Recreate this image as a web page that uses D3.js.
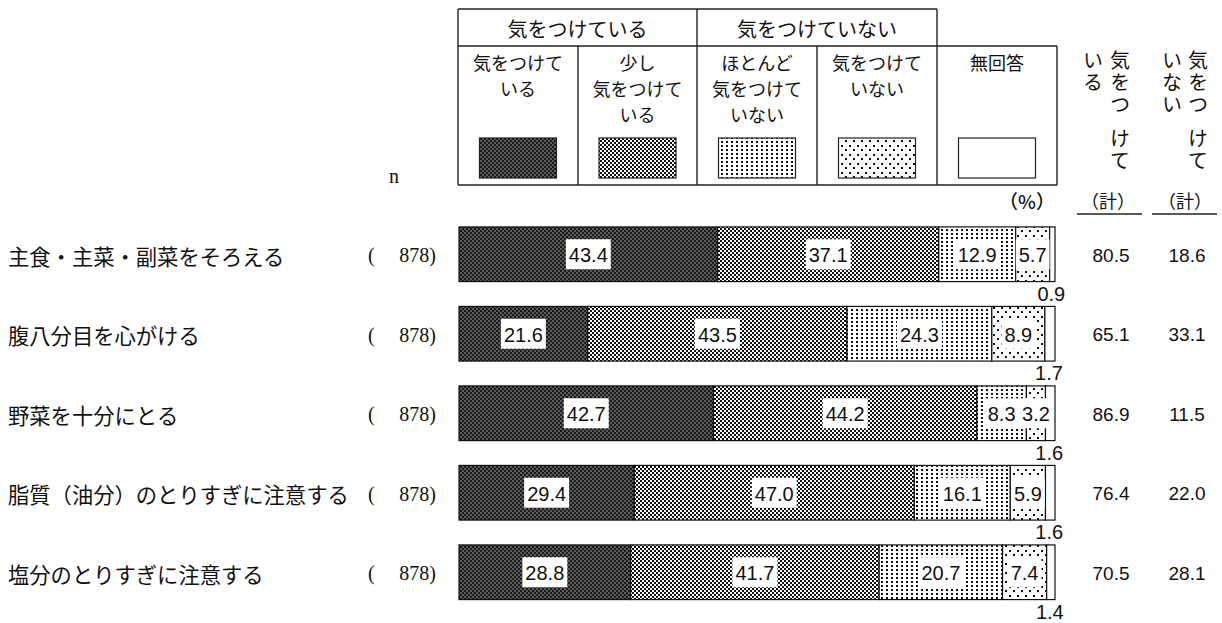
<!DOCTYPE html>
<html>
<head>
<meta charset="utf-8">
<script src="https://cdn.jsdelivr.net/npm/d3@7"></script>
<style>
  html, body { margin: 0; padding: 0; background: #fff; }
  svg { display: block; }
  .jp { font-family: "Noto Sans CJK JP", "Noto Sans", sans-serif; }
  .num { font-family: "Liberation Sans", Arial, sans-serif; }
  .serif { font-family: "Liberation Serif", "DejaVu Serif", serif; }
  .vert { writing-mode: vertical-rl; text-orientation: upright; }
</style>
</head>
<body>
<script>
// Survey items and sample sizes
const categories = [
  "主食・主菜・副菜をそろえる",
  "腹八分目を心がける",
  "野菜を十分にとる",
  "脂質（油分）のとりすぎに注意する",
  "塩分のとりすぎに注意する"
];
const sampleSizes = [878, 878, 878, 878, 878];

// Response shares (%)
const careful         = [43.4, 21.6, 42.7, 29.4, 28.8];
const somewhatCareful = [37.1, 43.5, 44.2, 47.0, 41.7];
const hardlyCareful   = [12.9, 24.3, 8.3, 16.1, 20.7];
const notCareful      = [5.7, 8.9, 3.2, 5.9, 7.4];
const noAnswer        = [0.9, 1.7, 1.6, 1.6, 1.4];

// Subtotals (%)
const carefulTotal    = [80.5, 65.1, 86.9, 76.4, 70.5];
const notCarefulTotal = [18.6, 33.1, 11.5, 22.0, 28.1];

// Legend labels
const seriesLabels = [
  ["気をつけて", "いる"],
  ["少し", "気をつけて", "いる"],
  ["ほとんど", "気をつけて", "いない"],
  ["気をつけて", "いない"],
  ["無回答"]
];
const groupLabels = ["気をつけている", "気をつけていない"];

const W = 1222, H = 623;
const svg = d3.select("body").append("svg").attr("width", W).attr("height", H);

// ---- fill patterns ----
const defs = svg.append("defs");
function tile(id, w, h, bg, cells) {
  const p = defs.append("pattern").attr("id", id)
    .attr("patternUnits", "userSpaceOnUse").attr("width", w).attr("height", h);
  p.append("rect").attr("width", w).attr("height", h).attr("fill", bg);
  cells.forEach(c => p.append("rect").attr("x", c[0]).attr("y", c[1])
    .attr("width", c[2]).attr("height", c[3]).attr("fill", c[4]));
}
tile("p0", 4, 4, "#1a1a1a", [[0, 0, 2, 2, "#5c5c5c"], [2, 2, 2, 2, "#5c5c5c"]]);
tile("p1", 4, 4, "#ffffff", [[0, 0, 2, 2, "#111"], [2, 2, 2, 2, "#111"]]);
tile("p2", 5, 4, "#ffffff", [[1, 1, 2, 2, "#111"]]);
tile("p3", 8, 9, "#ffffff", [[1, 1, 2, 2, "#111"], [5, 5, 2, 2, "#111"]]);
const fills = ["url(#p0)", "url(#p1)", "url(#p2)", "url(#p3)", "#ffffff"];

// ---- scales ----
const x = d3.scaleLinear().domain([0, 100]).range([459, 1055]);
const y = d3.scaleBand().domain(categories).range([214.5, 612])
  .paddingInner(0.3125).paddingOuter(0.15625);

const series = [careful, somewhatCareful, hardlyCareful, notCareful, noAnswer];
const rows = categories.map((c, i) => {
  const vals = series.map(s => s[i]);
  const stack = [];
  let acc = 0;
  vals.forEach((v, k) => { stack.push({ k, v, x0: acc, x1: acc + v, cat: c }); acc += v; });
  return stack;
});

// ---- legend table ----
const lg = svg.append("g").attr("stroke", "#222").attr("stroke-width", 1.4).attr("fill", "none");
const colEdges = [458, 578, 697, 817, 937, 1057];
const tTop = 9, tMid = 46, tBot = 185;
lg.append("line").attr("x1", 458).attr("x2", 937).attr("y1", tTop).attr("y2", tTop);
lg.append("line").attr("x1", 458).attr("x2", 1057).attr("y1", tMid).attr("y2", tMid);
lg.append("line").attr("x1", 458).attr("x2", 1057).attr("y1", tBot).attr("y2", tBot);
[458, 697, 937].forEach(v => lg.append("line").attr("x1", v).attr("x2", v).attr("y1", tTop).attr("y2", tBot));
[578, 817, 1057].forEach(v => lg.append("line").attr("x1", v).attr("x2", v).attr("y1", tMid).attr("y2", tBot));

groupLabels.forEach((t, i) => {
  svg.append("text").attr("class", "jp")
    .attr("x", (colEdges[i * 2] + colEdges[i * 2 + 2]) / 2).attr("y", 28)
    .attr("text-anchor", "middle").attr("dominant-baseline", "central")
    .attr("font-size", 20).attr("fill", "#111").text(t);
});
seriesLabels.forEach((lines, i) => {
  const cx = (colEdges[i] + colEdges[i + 1]) / 2;
  const t = svg.append("text").attr("class", "jp")
    .attr("text-anchor", "middle").attr("font-size", 18).attr("fill", "#111");
  lines.forEach((s, j) => {
    t.append("tspan").attr("x", cx).attr("y", 70 + j * 26).text(s);
  });
  svg.append("rect").attr("x", cx - 38.5).attr("y", 138).attr("width", 77).attr("height", 40)
    .attr("fill", fills[i]).attr("stroke", "#222").attr("stroke-width", 1.2);
});

// ---- column headers ----
svg.append("text").attr("class", "serif").attr("x", 394).attr("y", 176)
  .attr("text-anchor", "middle").attr("dominant-baseline", "central")
  .attr("font-size", 20).attr("fill", "#111").text("n");
svg.append("text").attr("class", "jp").attr("x", 1027).attr("y", 200)
  .attr("text-anchor", "middle").attr("dominant-baseline", "central")
  .attr("font-size", 19).attr("font-weight", 500).attr("fill", "#111").text("（%）");

// vertical headers for the subtotal columns (top-to-bottom writing)
function vertical(chars, cx, cy) {
  svg.append("text").attr("class", "jp vert").attr("x", cx).attr("y", cy)
    .attr("text-anchor", "middle").attr("font-size", 20)
    .attr("letter-spacing", 2).attr("fill", "#111").text(chars);
}
vertical("気をつ", 1120, 83);
vertical("けて", 1120, 150);
vertical("いる", 1093, 72);
vertical("気をつ", 1198, 83);
vertical("けて", 1198, 150);
vertical("いない", 1172, 83);
[[1108, 1077, 1142], [1185, 1152, 1217]].forEach(([cx, a, b]) => {
  svg.append("text").attr("class", "jp").attr("x", cx).attr("y", 200)
    .attr("text-anchor", "middle").attr("dominant-baseline", "central")
    .attr("font-size", 18).attr("fill", "#111").text("（計）");
  svg.append("line").attr("x1", a).attr("x2", b).attr("y1", 214).attr("y2", 214)
    .attr("stroke", "#222").attr("stroke-width", 1.4);
});

// ---- row labels ----
categories.forEach((c, i) => {
  const cy = y(c) + y.bandwidth() / 2 + 1;
  svg.append("text").attr("class", "jp").attr("x", 8).attr("y", cy)
    .attr("dominant-baseline", "central").attr("font-size", 21.3).attr("fill", "#111").text(c);
  svg.append("text").attr("class", "serif").attr("x", 368).attr("y", cy)
    .attr("dominant-baseline", "central").attr("font-size", 20).attr("fill", "#111").text("(");
  svg.append("text").attr("class", "serif").attr("x", 436).attr("y", cy)
    .attr("text-anchor", "end").attr("dominant-baseline", "central")
    .attr("font-size", 20).attr("fill", "#111").text(sampleSizes[i] + ")");
});

// ---- stacked bars ----
const rowG = svg.selectAll("g.row").data(rows).join("g").attr("class", "row");
rowG.selectAll("rect.seg").data(d => d).join("rect").attr("class", "seg")
  .attr("x", d => x(d.x0)).attr("width", d => x(d.x1) - x(d.x0))
  .attr("y", d => y(d.cat)).attr("height", y.bandwidth())
  .attr("fill", d => fills[d.k]).attr("stroke", "#111").attr("stroke-width", 1.2);

// value labels inside the bars; the no-answer share sits below the bar end
rowG.each(function (stack) {
  const g = d3.select(this);
  stack.forEach(d => {
    const cx = (x(d.x0) + x(d.x1)) / 2;
    const cy = y(d.cat) + y.bandwidth() / 2;
    const label = d.v.toFixed(1);
    if (d.k < 4) {
      const t = g.append("text").attr("class", "num").attr("x", cx).attr("y", cy + 1)
        .attr("text-anchor", "middle").attr("dominant-baseline", "central")
        .attr("font-size", 20).attr("fill", "#111").text(label);
      const bw = t.node().getComputedTextLength() + 6;
      g.insert("rect", "text").attr("x", cx - bw / 2).attr("y", cy - 15)
        .attr("width", bw).attr("height", 30).attr("fill", "#fff");
    } else {
      g.append("text").attr("class", "num").attr("x", cx - 1).attr("y", y(d.cat) + y.bandwidth() + 12)
        .attr("text-anchor", "middle").attr("dominant-baseline", "central")
        .attr("font-size", 20).attr("fill", "#111").text(label);
    }
  });
});

// ---- subtotal columns ----
categories.forEach((c, i) => {
  const cy = y(c) + y.bandwidth() / 2 + 1;
  svg.append("text").attr("class", "num").attr("x", 1111).attr("y", cy)
    .attr("text-anchor", "middle").attr("dominant-baseline", "central")
    .attr("font-size", 19).attr("fill", "#111").text(carefulTotal[i].toFixed(1));
  svg.append("text").attr("class", "num").attr("x", 1187).attr("y", cy)
    .attr("text-anchor", "middle").attr("dominant-baseline", "central")
    .attr("font-size", 19).attr("fill", "#111").text(notCarefulTotal[i].toFixed(1));
});
</script>
</body>
</html>
